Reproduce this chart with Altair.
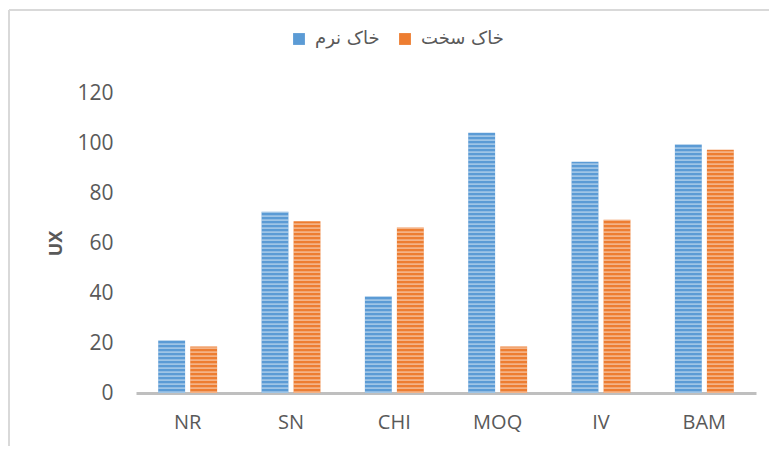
import altair as alt
import pandas as pd

categories = ["NR", "SN", "CHI", "MOQ", "IV", "BAM"]
series_names = ["خاک نرم", "خاک سخت"]
soft_soil = [21.0, 72.5, 38.6, 104.1, 92.5, 99.4]
hard_soil = [18.6, 68.7, 66.2, 18.6, 69.3, 97.3]
colors = ["#5b9bd5", "#ed7d31"]
y_ticks = [0, 20, 40, 60, 80, 100, 120]

rows = []
for i, c in enumerate(categories):
    rows.append({"cat": c, "series": series_names[0], "value": soft_soil[i]})
    rows.append({"cat": c, "series": series_names[1], "value": hard_soil[i]})
df = pd.DataFrame(rows)

FONT = "Open Sans"
LABEL_COLOR = "#595959"

x_enc = alt.X(
    "cat:N", sort=categories,
    scale=alt.Scale(paddingInner=0.43, paddingOuter=0.215),
    axis=alt.Axis(title=None, labelAngle=0, labelFont=FONT, labelFontSize=20,
                  labelColor=LABEL_COLOR, labelPadding=19, ticks=False,
                  domainColor="#bfbfbf", domainWidth=3, grid=False),
)
xoff_enc = alt.XOffset("series:N", sort=series_names,
                       scale=alt.Scale(domain=series_names, paddingInner=0.16, paddingOuter=0))
y_scale = alt.Scale(domain=[0, 120], nice=False)

base = alt.Chart(df)

bars = base.mark_bar().encode(
    x=x_enc,
    xOffset=xoff_enc,
    y=alt.Y("value:Q", scale=y_scale,
            axis=alt.Axis(values=y_ticks, title="UX", grid=False, domain=False, ticks=False,
                          labelFont=FONT, labelFontSize=21, labelColor=LABEL_COLOR,
                          labelPadding=23, titleFont=FONT, titleFontSize=18,
                          titleFontWeight="bold", titleColor=LABEL_COLOR,
                          titleX=-80, titleY=150, titleAngle=270,
                          titleAlign="center", titleBaseline="middle")),
    color=alt.Color("series:N", sort=series_names,
                    scale=alt.Scale(domain=series_names, range=colors),
                    legend=alt.Legend(title=None, orient="none", legendX=154, legendY=-63,
                                      direction="horizontal", symbolType="square",
                                      symbolSize=140, symbolStrokeWidth=0,
                                      labelFont="DejaVu Sans", labelFontSize=18,
                                      labelColor=LABEL_COLOR, columnPadding=16,
                                      labelOffset=7)),
)

stripes = base.transform_calculate(
    s="sequence(0, datum.value, 1.6)"
).transform_flatten(["s"]).transform_calculate(
    s2="min(datum.s + 0.7, datum.value)"
).mark_bar(color="white", opacity=0.42).encode(
    x=alt.X("cat:N", sort=categories),
    xOffset=alt.XOffset("series:N", sort=series_names),
    y=alt.Y("s:Q", scale=y_scale),
    y2="s2:Q",
)

one = pd.DataFrame({"k": [0]})
frame_left = alt.Chart(one).mark_rule(color="#d9d9d9", strokeWidth=2).encode(
    x=alt.value(-127), y=alt.value(-83), y2=alt.value(400)
)
frame_top = alt.Chart(one).mark_rule(color="#d9d9d9", strokeWidth=2).encode(
    x=alt.value(-127), x2=alt.value(700), y=alt.value(-83)
)

chart = alt.layer(bars, stripes, frame_left, frame_top).properties(
    width=620, height=300,
    background="white",
    autosize=alt.AutoSizeParams(type="none"),
    padding={"left": 128, "top": 85, "right": 13, "bottom": 53},
).configure_view(stroke="transparent", strokeWidth=0)

chart.save("out.html", embed_options={"renderer": "svg", "actions": False})
